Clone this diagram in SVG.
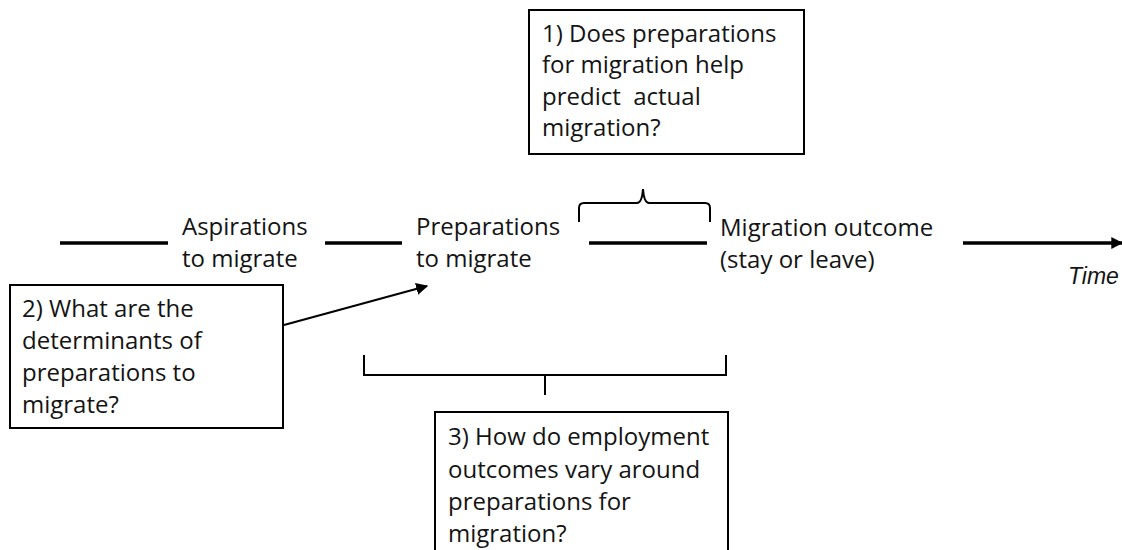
<svg xmlns="http://www.w3.org/2000/svg" width="1122" height="550" viewBox="0 0 1122 550">
  <defs>
    <marker id="arrowSmall" viewBox="0 0 10 10" refX="9" refY="5" markerWidth="6" markerHeight="6" markerUnits="strokeWidth" orient="auto">
      <path d="M0,0 L10,5 L0,10 z" fill="#000"/>
    </marker>
    <marker id="arrowTime" viewBox="0 0 10 10" refX="9" refY="5" markerWidth="3.4" markerHeight="3.4" markerUnits="strokeWidth" orient="auto">
      <path d="M0,0 L10,5 L0,10 z" fill="#000"/>
    </marker>
    <style>
      .t { font-family: "Open Sans", "Liberation Sans", sans-serif; font-size: 24px; fill: #141414; }
      .time { font-family: "Liberation Sans", Arial, sans-serif; font-size: 23px; font-style: italic; fill: #141414; }
      .box { fill: #fff; stroke: #000; stroke-width: 2; }
      .seg { stroke: #000; stroke-width: 3.5; fill: none; }
      .br { stroke: #000; stroke-width: 2; fill: none; }
    </style>
  </defs>
  <rect width="1122" height="550" fill="#fff"/>

  <g id="connectors">
    <line class="seg" x1="60" y1="243" x2="168" y2="243"/>
    <line class="seg" x1="325" y1="243" x2="402" y2="243"/>
    <line class="seg" x1="589" y1="243" x2="707" y2="243"/>
    <line class="seg" x1="963" y1="243" x2="1122" y2="243" marker-end="url(#arrowTime)"/>
    <path class="br" d="M579,222 V208 Q579,203 584,203 H637 Q642,203 643,189 Q644,203 649,203 H705 Q710,203 710,208 V222"/>
    <path class="br" d="M364,355 V375 H726 V355 M545,375 V395"/>
    <line x1="284" y1="325" x2="427" y2="286" stroke="#000" stroke-width="2" marker-end="url(#arrowSmall)"/>
  </g>

  <g id="label-aspirations">
    <text class="t" x="182" y="235">Aspirations</text>
    <text class="t" x="182" y="267">to migrate</text>
  </g>
  <g id="label-preparations">
    <text class="t" x="416" y="235">Preparations</text>
    <text class="t" x="416" y="267">to migrate</text>
  </g>
  <g id="label-outcome">
    <text class="t" x="720" y="236">Migration outcome</text>
    <text class="t" x="720" y="268">(stay or leave)</text>
  </g>
  <g id="label-time">
    <text class="time" x="1068" y="284">Time</text>
  </g>

  <g id="q1">
    <rect class="box" x="529" y="10" width="275" height="144"/>
    <text class="t" x="542" y="42">1) Does preparations</text>
    <text class="t" x="542" y="73">for migration help</text>
    <text class="t" x="542" y="105" style="white-space:pre">predict  actual</text>
    <text class="t" x="542" y="136">migration?</text>
  </g>

  <g id="q2">
    <rect class="box" x="10" y="285" width="273" height="143"/>
    <text class="t" x="22" y="317">2) What are the</text>
    <text class="t" x="22" y="349">determinants of</text>
    <text class="t" x="22" y="381">preparations to</text>
    <text class="t" x="22" y="413">migrate?</text>
  </g>

  <g id="q3">
    <rect class="box" x="435" y="412" width="293" height="150"/>
    <text class="t" x="448" y="445">3) How do employment</text>
    <text class="t" x="448" y="478">outcomes vary around</text>
    <text class="t" x="448" y="510">preparations for</text>
    <text class="t" x="448" y="542">migration?</text>
  </g>
</svg>
